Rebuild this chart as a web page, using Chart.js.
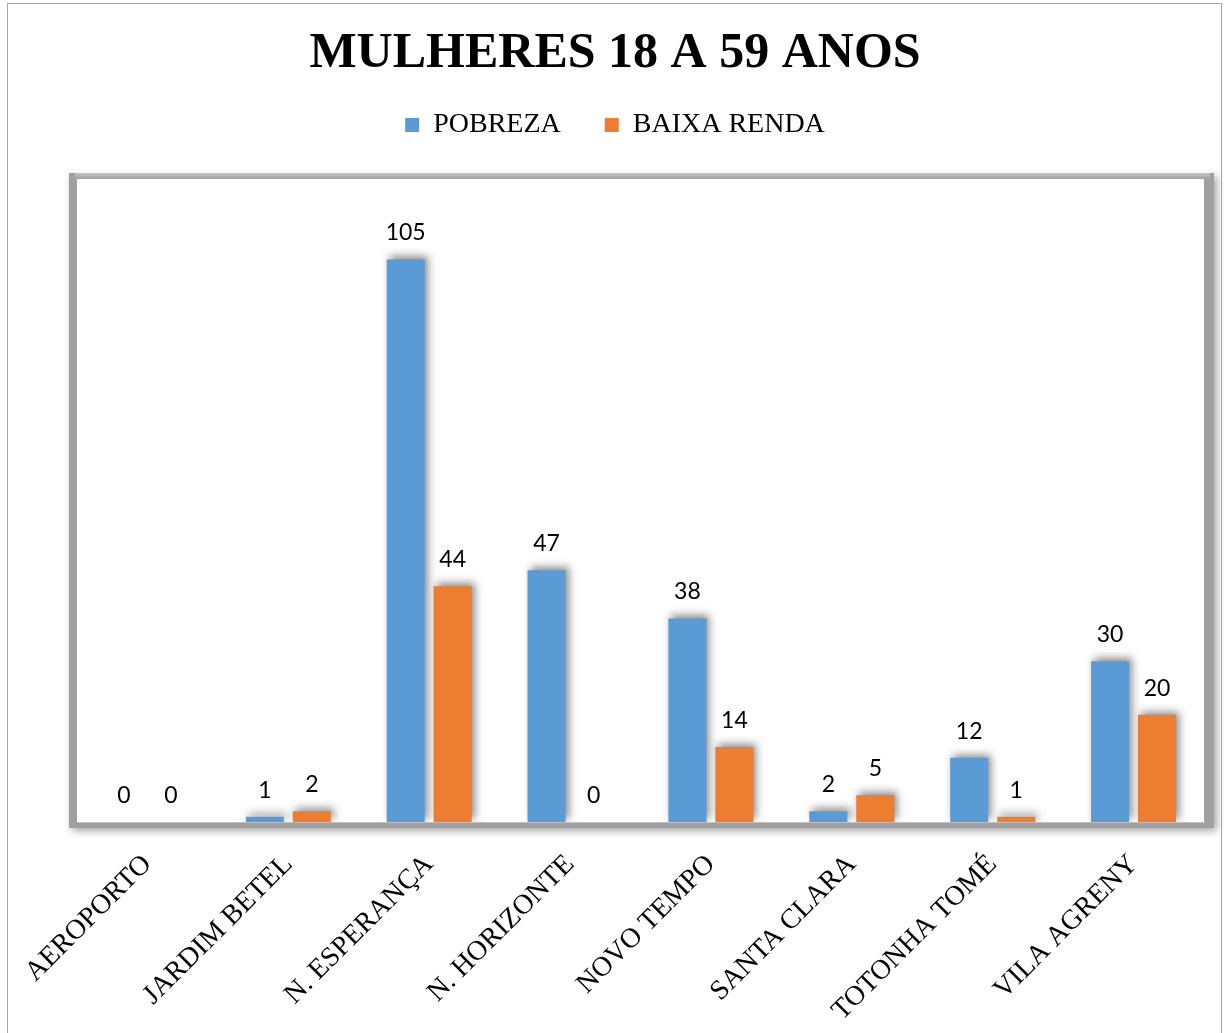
<!DOCTYPE html>
<html>
<head>
<meta charset="utf-8">
<script src="https://cdn.jsdelivr.net/npm/chart.js@4.4.0/dist/chart.umd.min.js"></script>
<style>
    html, body { margin: 0; padding: 0; background: #fff; }
    #wrap { position: relative; width: 1224px; height: 1033px; overflow: hidden; }
    #frame { position: absolute; left: 7px; top: 3px; width: 1213px; height: 1100px;
             border: 1px solid #a6a6a6; border-bottom: none; pointer-events: none; }
    canvas { position: absolute; left: 0; top: 0; }
</style>
</head>
<body>
<div id="wrap">
    <canvas id="chart" width="1224" height="1033"></canvas>
    <div id="frame"></div>
</div>
<script>
const bairros = ['AEROPORTO', 'JARDIM BETEL', 'N. ESPERANÇA', 'N. HORIZONTE', 'NOVO TEMPO', 'SANTA CLARA', 'TOTONHA TOMÉ', 'VILA AGRENY'];
const pobreza = [0, 1, 105, 47, 38, 2, 12, 30];
const baixaRenda = [0, 2, 44, 0, 14, 5, 1, 20];

const serif = '"Liberation Serif", "Times New Roman", serif';

// moldura com sombra da área do gráfico
const plotShadow = {
    id: 'plotShadow',
    beforeDraw(chart) {
        const { ctx, chartArea: a } = chart;
        const w = a.right - a.left, h = a.bottom - a.top;
        ctx.save();
        ctx.shadowColor = 'rgba(0, 0, 0, 0.35)';
        ctx.shadowBlur = 8;
        ctx.shadowOffsetX = 3;
        ctx.shadowOffsetY = 3;
        ctx.fillStyle = '#a0a0a0';
        ctx.fillRect(a.left - 8, a.top - 6, w + 18, h + 12);
        ctx.restore();
        // faixa superior um pouco mais clara
        const g = ctx.createLinearGradient(0, a.top - 9, 0, a.top);
        g.addColorStop(0, 'rgba(255, 255, 255, 0.6)');
        g.addColorStop(1, 'rgba(255, 255, 255, 0)');
        ctx.fillStyle = g;
        ctx.fillRect(a.left - 2, a.top - 9, w + 8, 9);
        ctx.fillStyle = '#ffffff';
        ctx.fillRect(a.left, a.top, w, h);
    }
};

// sombra nas barras
const barShadow = {
    id: 'barShadow',
    beforeDatasetsDraw(chart) {
        const ctx = chart.ctx;
        ctx.save();
        ctx.shadowColor = 'rgba(0, 0, 0, 0.45)';
        ctx.shadowBlur = 8;
        ctx.shadowOffsetX = 3;
        ctx.shadowOffsetY = -3;
    },
    afterDatasetsDraw(chart) {
        chart.ctx.restore();
    }
};

// rótulos de valor
const valueLabels = {
    id: 'valueLabels',
    afterDatasetsDraw(chart) {
        const ctx = chart.ctx;
        ctx.save();
        ctx.font = '23px Lato, "Open Sans", sans-serif';
        ctx.fillStyle = '#000';
        ctx.textAlign = 'center';
        ctx.textBaseline = 'bottom';
        chart.data.datasets.forEach((ds, i) => {
            chart.getDatasetMeta(i).data.forEach((bar, j) => {
                ctx.fillText(String(ds.data[j]), bar.x, bar.y - 15);
            });
        });
        ctx.restore();
    }
};

new Chart(document.getElementById('chart'), {
    type: 'bar',
    data: {
        labels: bairros,
        datasets: [
            {
                label: 'POBREZA',
                data: pobreza,
                backgroundColor: '#5B9BD5',
                categoryPercentage: 0.667,
                barPercentage: 0.81
            },
            {
                label: 'BAIXA RENDA',
                data: baixaRenda,
                backgroundColor: '#ED7D31',
                categoryPercentage: 0.667,
                barPercentage: 0.81
            }
        ]
    },
    options: {
        responsive: false,
        animation: false,
        layout: {
            padding: { left: 26, right: 20, top: 0, bottom: 0 }
        },
        scales: {
            y: {
                display: true,
                min: 0,
                max: 120,
                grid: { display: false },
                border: { display: false },
                ticks: { display: false },
                afterFit(scale) { scale.width = 51; }
            },
            // espaço vazio entre a legenda e a área do gráfico
            topGap: {
                type: 'category',
                position: 'top',
                display: true,
                grid: { display: false },
                border: { display: false },
                ticks: { display: false },
                afterFit(scale) { scale.height = 30; }
            },
            x: {
                grid: { display: false },
                border: { display: true, color: '#bfbfbf' },
                ticks: {
                    color: '#000',
                    minRotation: 45,
                    maxRotation: 45,
                    padding: 18,
                    font: { family: serif, size: 28 }
                },
                afterFit(scale) { scale.height = 211; }
            }
        },
        plugins: {
            title: {
                display: true,
                text: 'MULHERES 18 A 59 ANOS',
                color: '#000',
                padding: { top: 24, bottom: -17 },
                font: { family: serif, size: 50, weight: 'bold' }
            },
            legend: {
                display: true,
                position: 'top',
                labels: {
                    color: '#000',
                    boxWidth: 14,
                    boxHeight: 14,
                    padding: 44,
                    font: { family: serif, size: 28 }
                }
            },
            tooltip: { enabled: false }
        }
    },
    plugins: [plotShadow, barShadow, valueLabels]
});
</script>
</body>
</html>
